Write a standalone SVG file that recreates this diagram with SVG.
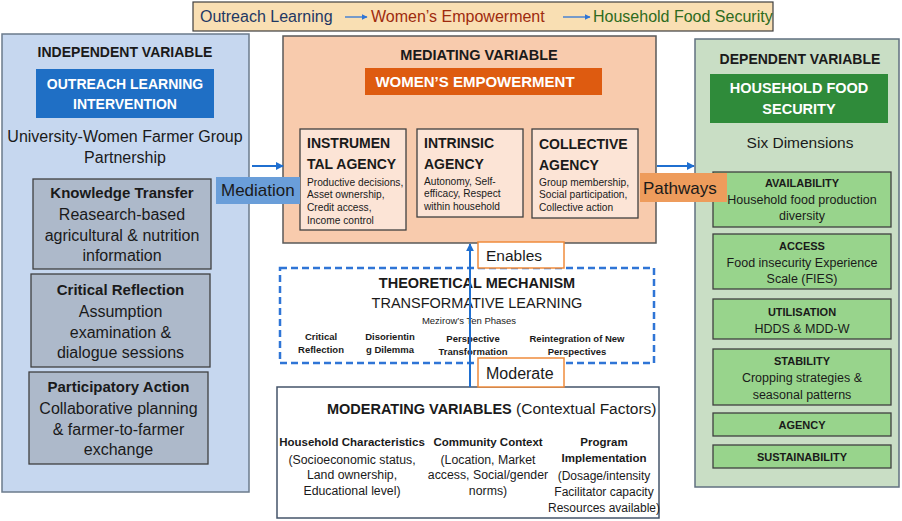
<svg xmlns="http://www.w3.org/2000/svg" width="902" height="521" viewBox="0 0 902 521">
<defs>
<marker id="ah" viewBox="0 0 10 10" refX="9" refY="5" markerWidth="8" markerHeight="8" markerUnits="userSpaceOnUse" orient="auto"><path d="M0,0 L10,5 L0,10 z" fill="#1f6fd0"/></marker>
<marker id="ahs" viewBox="0 0 10 10" refX="9" refY="5" markerWidth="6" markerHeight="6" markerUnits="userSpaceOnUse" orient="auto"><path d="M0,0 L10,5 L0,10 z" fill="#2f75d6"/></marker>
</defs>
<style>
text{font-family:"Liberation Sans",Arial,sans-serif;fill:#1a1a1a}
.c{text-anchor:middle}
.b{font-weight:bold}
.w{fill:#ffffff}
.h14{font-size:14px;font-weight:bold}
.r16{font-size:16px}
.sub{fill:#adb9ca;stroke:#404040;stroke-width:1.3}
.ag{fill:#fce4d6;stroke:#404040;stroke-width:1.3}
.gb{fill:#98d48c;stroke:#404040;stroke-width:1.3}
.sm{font-size:10.2px}
.ph{font-size:9.5px;font-weight:bold}
.lab{fill:#ffffff;stroke:#f08c3c;stroke-width:1.5}
.conn{stroke:#1f6fd0;stroke-width:2;fill:none}
</style>

<g id="banner">
<rect x="193" y="2" width="580" height="29" fill="#f9dfb3" stroke="#3f3f3f" stroke-width="1.2"/>
<text x="200" y="22" style="font-size:16px;fill:#1f3864">Outreach Learning</text>
<text x="371" y="22" style="font-size:16px;fill:#9e2b0e">Women’s Empowerment</text>
<text x="593" y="22" style="font-size:16px;fill:#2e6b20">Household Food Security</text>
<line x1="345" y1="17" x2="367" y2="17" stroke="#2f75d6" stroke-width="1.3" marker-end="url(#ahs)"/>
<line x1="563" y1="17" x2="590" y2="17" stroke="#2f75d6" stroke-width="1.3" marker-end="url(#ahs)"/>
</g>

<g id="independent">
<rect x="2" y="34" width="247" height="458" fill="#c6d7ef" stroke="#6b7b8c" stroke-width="1.5"/>
<text x="125" y="57" class="c h14">INDEPENDENT VARIABLE</text>
<rect x="36" y="69" width="178" height="49" fill="#1f6fc5"/>
<text x="125" y="89" class="c h14 w">OUTREACH LEARNING</text>
<text x="125" y="109" class="c h14 w">INTERVENTION</text>
<text x="125" y="142" class="c r16">University-Women Farmer Group</text>
<text x="125" y="163" class="c r16">Partnership</text>
</g>

<g id="knowledge-transfer">
<rect x="33" y="179" width="178" height="90" class="sub"/>
<text x="122" y="198" class="c b" style="font-size:15px">Knowledge Transfer</text>
<text x="122" y="220" class="c r16">Reasearch-based</text>
<text x="122" y="241" class="c r16">agricultural &amp; nutrition</text>
<text x="122" y="261" class="c r16">information</text>
</g>

<g id="critical-reflection">
<rect x="31" y="274" width="179" height="93" class="sub"/>
<text x="120.5" y="295" class="c b" style="font-size:15px">Critical Reflection</text>
<text x="120.5" y="317" class="c r16">Assumption</text>
<text x="120.5" y="338" class="c r16">examination &amp;</text>
<text x="120.5" y="358" class="c r16">dialogue sessions</text>
</g>

<g id="participatory-action">
<rect x="29" y="372" width="179" height="92" class="sub"/>
<text x="118.5" y="392" class="c b" style="font-size:15px">Participatory Action</text>
<text x="118.5" y="414" class="c r16">Collaborative planning</text>
<text x="118.5" y="435" class="c r16">&amp; farmer-to-farmer</text>
<text x="118.5" y="455" class="c r16">exchange</text>
</g>

<g id="mediating">
<rect x="283" y="36" width="373" height="207" fill="#f8cbad" stroke="#595959" stroke-width="1.5"/>
<text x="479" y="60" class="c b" style="font-size:14.5px">MEDIATING VARIABLE</text>
<rect x="365" y="68" width="237" height="27" fill="#de5b10"/>
<text x="475" y="87" class="c b w" style="font-size:15px">WOMEN’S EMPOWERMENT</text>
</g>

<g id="instrumental-agency">
<rect x="300" y="129" width="106" height="101" class="ag"/>
<text x="307" y="148" class="b" style="font-size:14px">INSTRUMEN</text>
<text x="307" y="169" class="b" style="font-size:14px">TAL AGENCY</text>
<text x="307" y="185.5" class="sm">Productive decisions,</text>
<text x="307" y="198" class="sm">Asset ownership,</text>
<text x="307" y="210.5" class="sm">Credit access,</text>
<text x="307" y="223.5" class="sm">Income control</text>
</g>

<g id="intrinsic-agency">
<rect x="417" y="129" width="106" height="88" class="ag"/>
<text x="424" y="148" class="b" style="font-size:14px">INTRINSIC</text>
<text x="424" y="169" class="b" style="font-size:14px">AGENCY</text>
<text x="424" y="184.5" class="sm">Autonomy, Self-</text>
<text x="424" y="197" class="sm">efficacy, Respect</text>
<text x="424" y="209.5" class="sm">within household</text>
</g>

<g id="collective-agency">
<rect x="532" y="129" width="106" height="89" class="ag"/>
<text x="539" y="149" class="b" style="font-size:14px">COLLECTIVE</text>
<text x="539" y="170" class="b" style="font-size:14px">AGENCY</text>
<text x="539" y="185.5" class="sm">Group membership,</text>
<text x="539" y="198" class="sm">Social participation,</text>
<text x="539" y="210.5" class="sm">Collective action</text>
</g>

<g id="dependent">
<rect x="695" y="39" width="204" height="448" fill="#c9dec5" stroke="#607080" stroke-width="1.5"/>
<text x="800" y="64" class="c h14">DEPENDENT VARIABLE</text>
<rect x="710" y="74" width="178" height="49" fill="#2f8b3a"/>
<text x="799" y="93" class="c b w" style="font-size:14.5px">HOUSEHOLD FOOD</text>
<text x="799" y="114" class="c b w" style="font-size:14.5px">SECURITY</text>
<text x="800" y="147.5" class="c" style="font-size:15.5px">Six Dimensions</text>
</g>

<g id="availability">
<rect x="713" y="172" width="178" height="55" class="gb"/>
<text x="802" y="187" class="c b" style="font-size:11px">AVAILABILITY</text>
<text x="802" y="203.5" class="c" style="font-size:12.5px">Household food production</text>
<text x="802" y="219.5" class="c" style="font-size:12.5px">diversity</text>
</g>
<g id="access">
<rect x="713" y="234" width="178" height="55" class="gb"/>
<text x="802" y="250" class="c b" style="font-size:11px">ACCESS</text>
<text x="802" y="266.5" class="c" style="font-size:12.5px">Food insecurity Experience</text>
<text x="802" y="282.5" class="c" style="font-size:12.5px">Scale (FIES)</text>
</g>
<g id="utilisation">
<rect x="713" y="299" width="178" height="40" class="gb"/>
<text x="802" y="316" class="c b" style="font-size:11px">UTILISATION</text>
<text x="802" y="332.5" class="c" style="font-size:12.5px">HDDS &amp; MDD-W</text>
</g>
<g id="stability">
<rect x="713" y="349" width="178" height="56" class="gb"/>
<text x="802" y="365" class="c b" style="font-size:11px">STABILITY</text>
<text x="802" y="381.5" class="c" style="font-size:12.5px">Cropping strategies &amp;</text>
<text x="802" y="398.5" class="c" style="font-size:12.5px">seasonal patterns</text>
</g>
<g id="agency">
<rect x="713" y="413" width="178" height="23" class="gb"/>
<text x="802" y="429" class="c b" style="font-size:11px">AGENCY</text>
</g>
<g id="sustainability">
<rect x="713" y="445" width="178" height="23" class="gb"/>
<text x="802" y="461" class="c b" style="font-size:11px">SUSTAINABILITY</text>
</g>

<g id="theoretical-mechanism">
<rect x="280" y="268" width="374" height="95" fill="none" stroke="#2f75d6" stroke-width="2.5" stroke-dasharray="7 4"/>
<text x="477" y="288" class="c b" style="font-size:14.5px">THEORETICAL MECHANISM</text>
<text x="477" y="308" class="c" style="font-size:14.5px">TRANSFORMATIVE LEARNING</text>
<text x="469" y="323.5" class="c" style="font-size:9.5px">Mezirow’s Ten Phases</text>
<text x="321" y="340" class="c ph">Critical</text>
<text x="321" y="353" class="c ph">Reflection</text>
<text x="390" y="340" class="c ph">Disorientin</text>
<text x="390" y="353" class="c ph">g Dilemma</text>
<text x="473" y="342" class="c ph">Perspective</text>
<text x="473" y="355" class="c ph">Transformation</text>
<text x="577" y="342" class="c ph">Reintegration of New</text>
<text x="577" y="355" class="c ph">Perspectives</text>
</g>

<g id="moderating">
<rect x="277" y="387" width="382" height="131" fill="#ffffff" stroke="#44546a" stroke-width="1.5"/>
<text x="327" y="414"><tspan class="b" style="font-size:14.5px">MODERATING VARIABLES</tspan><tspan style="font-size:15.5px"> (Contextual Factors)</tspan></text>
<text x="352" y="446" class="c b" style="font-size:11.5px">Household Characteristics</text>
<text x="352" y="463.5" class="c" style="font-size:12.3px">(Socioeconomic status,</text>
<text x="352" y="478.5" class="c" style="font-size:12.3px">Land ownership,</text>
<text x="352" y="494.5" class="c" style="font-size:12.3px">Educational level)</text>
<text x="488" y="446" class="c b" style="font-size:11.5px">Community Context</text>
<text x="488" y="463.5" class="c" style="font-size:12.3px">(Location, Market</text>
<text x="488" y="478.5" class="c" style="font-size:12.3px">access, Social/gender</text>
<text x="488" y="494.5" class="c" style="font-size:12.3px">norms)</text>
<text x="604" y="446" class="c b" style="font-size:11.5px">Program</text>
<text x="604" y="462" class="c b" style="font-size:11.5px">Implementation</text>
<text x="604" y="479.5" class="c" style="font-size:12px">(Dosage/intensity</text>
<text x="604" y="495.5" class="c" style="font-size:12px">Facilitator capacity</text>
<text x="604" y="511.5" class="c" style="font-size:12px">Resources available)</text>
</g>

<g id="connectors">
<line x1="252" y1="166" x2="283" y2="166" class="conn" marker-end="url(#ah)"/>
<line x1="657" y1="166" x2="694" y2="166" class="conn" marker-end="url(#ah)"/>
<line x1="470" y1="387" x2="470" y2="244" class="conn" marker-end="url(#ah)"/>
<rect x="216" y="177" width="84" height="27" fill="#6a9ed9"/>
<text x="221" y="196" style="font-size:17px">Mediation</text>
<rect x="640" y="173" width="87" height="29" fill="#ee9c5c"/>
<text x="643" y="194" style="font-size:17px">Pathways</text>
<rect x="478" y="242" width="86" height="26" class="lab"/>
<text x="486" y="260.5" style="font-size:15.5px">Enables</text>
<rect x="478" y="358" width="86" height="29" class="lab"/>
<text x="486" y="379" style="font-size:16px">Moderate</text>
</g>
</svg>
